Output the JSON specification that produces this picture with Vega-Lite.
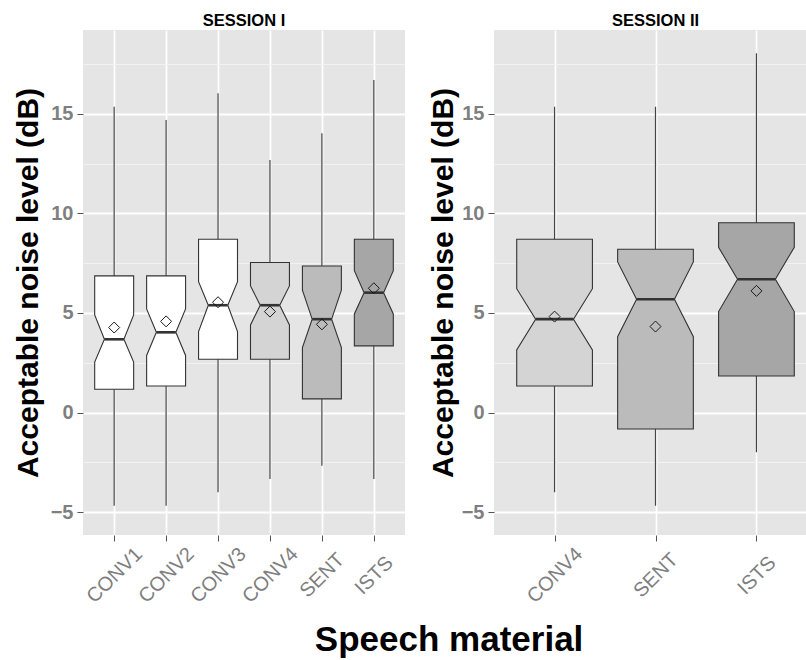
{
  "$schema": "https://vega.github.io/schema/vega-lite/v6.json",
  "padding": {"left": 13, "top": 12, "right": 0, "bottom": 0},
  "background": "white",
  "spacing": 23,
  "datasets": {
    "boxes": [
      {"session": "SESSION I", "material": "CONV1", "q1": 1.17, "nlo": 2.54, "med": 3.68, "nhi": 4.90, "q3": 6.86, "wlo": -4.67, "whi": 15.35, "mean": 4.27},
      {"session": "SESSION I", "material": "CONV2", "q1": 1.34, "nlo": 2.87, "med": 4.03, "nhi": 5.20, "q3": 6.86, "wlo": -4.67, "whi": 14.69, "mean": 4.58},
      {"session": "SESSION I", "material": "CONV3", "q1": 2.68, "nlo": 4.07, "med": 5.39, "nhi": 6.57, "q3": 8.70, "wlo": -4.00, "whi": 16.03, "mean": 5.54},
      {"session": "SESSION I", "material": "CONV4", "q1": 2.68, "nlo": 4.40, "med": 5.39, "nhi": 6.36, "q3": 7.53, "wlo": -3.33, "whi": 12.68, "mean": 5.07},
      {"session": "SESSION I", "material": "SENT", "q1": 0.69, "nlo": 3.26, "med": 4.69, "nhi": 6.14, "q3": 7.36, "wlo": -2.66, "whi": 14.02, "mean": 4.43},
      {"session": "SESSION I", "material": "ISTS", "q1": 3.35, "nlo": 4.95, "med": 6.02, "nhi": 7.12, "q3": 8.70, "wlo": -3.33, "whi": 16.69, "mean": 6.24},
      {"session": "SESSION II", "material": "CONV4", "q1": 1.34, "nlo": 3.15, "med": 4.69, "nhi": 6.22, "q3": 8.70, "wlo": -4.00, "whi": 15.35, "mean": 4.82},
      {"session": "SESSION II", "material": "SENT", "q1": -0.82, "nlo": 3.81, "med": 5.69, "nhi": 7.56, "q3": 8.20, "wlo": -4.67, "whi": 15.35, "mean": 4.32},
      {"session": "SESSION II", "material": "ISTS", "q1": 1.84, "nlo": 5.07, "med": 6.69, "nhi": 8.30, "q3": 9.53, "wlo": -1.99, "whi": 18.03, "mean": 6.11}
    ]
  },
  "title": {
    "text": "Speech material",
    "orient": "bottom",
    "anchor": "middle",
    "fontSize": 35,
    "fontWeight": "bold",
    "font": "Liberation Sans",
    "color": "#000000",
    "offset": 17,
    "dx": 34
  },
  "hconcat": [
    {
      "width": 322,
      "height": 505,
      "title": {"text": "SESSION I", "fontSize": 16.5, "fontWeight": "bold", "font": "Liberation Sans", "color": "#000000", "offset": 1},
      "data": {"name": "boxes"},
      "transform": [
        {"filter": "datum.session === 'SESSION I'"},
        {"calculate": "indexof(['CONV1','CONV2','CONV3','CONV4','SENT','ISTS'], datum.material) + 1", "as": "pos"}
      ],
      "encoding": {
        "y": {
          "type": "quantitative",
          "scale": {"domain": [-6.14, 19.2], "nice": false, "zero": false},
          "axis": {
            "title": "Acceptable noise level (dB)",
            "titlePadding": 7,
            "values": [-5, -2.5, 0, 2.5, 5, 7.5, 10, 12.5, 15, 17.5],
            "labelExpr": "datum.value % 5 === 0 ? datum.label : ''",
            "gridColor": {"condition": {"test": "datum.value % 5 !== 0", "value": "#F2F2F2"}, "value": "#FFFFFF"},
            "gridWidth": {"condition": {"test": "datum.value % 5 !== 0", "value": 1}, "value": 2},
            "tickOpacity": {"condition": {"test": "datum.value % 5 !== 0", "value": 0}, "value": 1}
          }
        }
      },
      "layer": [
        {
          "mark": {"type": "rule", "color": "#444444", "strokeWidth": 1.2},
          "encoding": {
            "x": {
              "field": "pos", "type": "quantitative",
              "scale": {"domain": [0.4, 6.6], "nice": false, "zero": false},
              "axis": {
                "title": null,
                "values": [1, 2, 3, 4, 5, 6],
                "labelExpr": "['CONV1','CONV2','CONV3','CONV4','SENT','ISTS'][datum.value - 1]"
              }
            },
            "y": {"field": "wlo"},
            "y2": {"field": "whi"}
          }
        },
        {
          "transform": [
            {"fold": ["q1", "nlo", "med", "nhi", "q3"], "as": ["part", "yv"]},
            {"calculate": "datum.part === 'med' ? 0.1875 : 0.375", "as": "hw"},
            {"calculate": "datum.pos - datum.hw", "as": "xl"},
            {"calculate": "datum.pos + datum.hw", "as": "xr"}
          ],
          "mark": {"type": "area", "orient": "horizontal", "stroke": "#333333", "strokeWidth": 1.1, "interpolate": "linear", "opacity": 1},
          "encoding": {
            "y": {"field": "yv", "type": "quantitative"},
            "x": {"field": "xl", "type": "quantitative", "stack": null},
            "x2": {"field": "xr"},
            "fill": {
              "field": "material", "type": "nominal", "legend": null,
              "scale": {"domain": ["CONV1", "CONV2", "CONV3", "CONV4", "SENT", "ISTS"], "range": ["#FFFFFF", "#FFFFFF", "#FFFFFF", "#D4D4D4", "#BBBBBB", "#A6A6A6"]}
            },
            "detail": {"field": "material"}
          }
        },
        {
          "transform": [
            {"calculate": "datum.pos - 0.1875", "as": "ml"},
            {"calculate": "datum.pos + 0.1875", "as": "mr"}
          ],
          "mark": {"type": "rule", "color": "#333333", "strokeWidth": 2.6},
          "encoding": {
            "x": {"field": "ml", "type": "quantitative"},
            "x2": {"field": "mr"},
            "y": {"field": "med"}
          }
        },
        {
          "mark": {"type": "point", "shape": "diamond", "filled": false, "size": 121, "stroke": "#1A1A1A", "strokeWidth": 1, "opacity": 1},
          "encoding": {
            "x": {"field": "pos", "type": "quantitative"},
            "y": {"field": "mean"}
          }
        }
      ]
    },
    {
      "width": 323,
      "height": 505,
      "title": {"text": "SESSION II", "fontSize": 16.5, "fontWeight": "bold", "font": "Liberation Sans", "color": "#000000", "offset": 1},
      "data": {"name": "boxes"},
      "transform": [
        {"filter": "datum.session === 'SESSION II'"},
        {"calculate": "indexof(['CONV4','SENT','ISTS'], datum.material) + 1", "as": "pos"}
      ],
      "encoding": {
        "y": {
          "type": "quantitative",
          "scale": {"domain": [-6.14, 19.2], "nice": false, "zero": false},
          "axis": {
            "title": "Acceptable noise level (dB)",
            "titlePadding": 3,
            "values": [-5, -2.5, 0, 2.5, 5, 7.5, 10, 12.5, 15, 17.5],
            "labelExpr": "datum.value % 5 === 0 ? datum.label : ''",
            "gridColor": {"condition": {"test": "datum.value % 5 !== 0", "value": "#F2F2F2"}, "value": "#FFFFFF"},
            "gridWidth": {"condition": {"test": "datum.value % 5 !== 0", "value": 1}, "value": 2},
            "tickOpacity": {"condition": {"test": "datum.value % 5 !== 0", "value": 0}, "value": 1}
          }
        }
      },
      "layer": [
        {
          "mark": {"type": "rule", "color": "#444444", "strokeWidth": 1.2},
          "encoding": {
            "x": {
              "field": "pos", "type": "quantitative",
              "scale": {"domain": [0.4, 3.6], "nice": false, "zero": false},
              "axis": {
                "title": null,
                "values": [1, 2, 3],
                "labelExpr": "['CONV4','SENT','ISTS'][datum.value - 1]"
              }
            },
            "y": {"field": "wlo"},
            "y2": {"field": "whi"}
          }
        },
        {
          "transform": [
            {"fold": ["q1", "nlo", "med", "nhi", "q3"], "as": ["part", "yv"]},
            {"calculate": "datum.part === 'med' ? 0.1875 : 0.375", "as": "hw"},
            {"calculate": "datum.pos - datum.hw", "as": "xl"},
            {"calculate": "datum.pos + datum.hw", "as": "xr"}
          ],
          "mark": {"type": "area", "orient": "horizontal", "stroke": "#333333", "strokeWidth": 1.1, "interpolate": "linear", "opacity": 1},
          "encoding": {
            "y": {"field": "yv", "type": "quantitative"},
            "x": {"field": "xl", "type": "quantitative", "stack": null},
            "x2": {"field": "xr"},
            "fill": {
              "field": "material", "type": "nominal", "legend": null,
              "scale": {"domain": ["CONV1", "CONV2", "CONV3", "CONV4", "SENT", "ISTS"], "range": ["#FFFFFF", "#FFFFFF", "#FFFFFF", "#D4D4D4", "#BBBBBB", "#A6A6A6"]}
            },
            "detail": {"field": "material"}
          }
        },
        {
          "transform": [
            {"calculate": "datum.pos - 0.1875", "as": "ml"},
            {"calculate": "datum.pos + 0.1875", "as": "mr"}
          ],
          "mark": {"type": "rule", "color": "#333333", "strokeWidth": 2.6},
          "encoding": {
            "x": {"field": "ml", "type": "quantitative"},
            "x2": {"field": "mr"},
            "y": {"field": "med"}
          }
        },
        {
          "mark": {"type": "point", "shape": "diamond", "filled": false, "size": 121, "stroke": "#1A1A1A", "strokeWidth": 1, "opacity": 1},
          "encoding": {
            "x": {"field": "pos", "type": "quantitative"},
            "y": {"field": "mean"}
          }
        }
      ]
    }
  ],
  "config": {
    "view": {"fill": "#E5E5E5", "stroke": null},
    "axis": {
      "domain": false,
      "tickColor": "#555555",
      "tickSize": 6,
      "tickWidth": 1,
      "gridColor": "#FFFFFF",
      "labelColor": "#7F7F7F",
      "labelFont": "Liberation Sans",
      "labelOverlap": false,
      "titleFont": "Liberation Sans",
      "titleColor": "#000000",
      "titleFontWeight": "bold"
    },
    "axisY": {
      "labelFontSize": 20,
      "labelFontWeight": "bold",
      "labelPadding": 4,
      "titleFontSize": 30
    },
    "axisX": {
      "grid": true,
      "gridWidth": 1.7,
      "labelFontSize": 20,
      "labelFontWeight": "normal",
      "labelAngle": -45,
      "labelAlign": "center",
      "labelBaseline": "middle",
      "labelPadding": 34
    }
  }
}
